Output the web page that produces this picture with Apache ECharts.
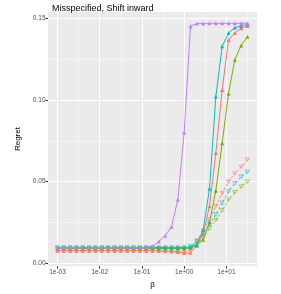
<!DOCTYPE html>
<html>
<head>
<meta charset="utf-8">
<script src="https://cdn.jsdelivr.net/npm/echarts@6/dist/echarts.min.js"></script>
<style>html,body{margin:0;padding:0;background:#fff}#c{width:281px;height:294px}</style>
</head>
<body>
<div id="c"></div>
<script>
// log10(beta) grid
var logBeta = [-3, -2.85, -2.7, -2.55, -2.4, -2.25, -2.1, -1.95, -1.8, -1.65, -1.5, -1.35, -1.2, -1.05, -0.9,
  -0.75, -0.6, -0.45, -0.3, -0.15, 0, 0.15, 0.3, 0.45, 0.6, 0.75, 0.9, 1.05, 1.2, 1.35, 1.5];
var xTicks = [-3, -2, -1, 0, 1];
var xMinor = [-2.5, -1.5, -0.5, 0.5, 1.5];
var yTicks = [0, 0.05, 0.10, 0.15];
var yMinor = [0.025, 0.075, 0.125];

// solid series
var redSolid = [0.0078,0.0078,0.0078,0.0078,0.0078,0.0078,0.0078,0.0078,0.0078,0.0078,0.0078,0.0078,0.0078,0.0078,0.0078,
  0.0078,0.0077,0.0075,0.0073,0.0070,0.0064,0.0066,0.0110,0.0180,0.0350,0.0676,0.1060,0.1366,0.1408,0.1437,0.1451];
var oliveSolid = [0.0093,0.0093,0.0093,0.0093,0.0093,0.0093,0.0093,0.0093,0.0093,0.0093,0.0093,0.0093,0.0093,0.0093,0.0093,
  0.0093,0.0092,0.0092,0.0091,0.0091,0.0090,0.0095,0.0110,0.0145,0.0250,0.0445,0.0735,0.1039,0.1245,0.1333,0.1386];
var tealSolid = [0.0097,0.0097,0.0097,0.0097,0.0097,0.0097,0.0097,0.0097,0.0097,0.0097,0.0097,0.0097,0.0097,0.0097,0.0097,
  0.0097,0.0097,0.0097,0.0097,0.0097,0.0098,0.0100,0.0115,0.0206,0.0456,0.1020,0.1327,0.1408,0.1441,0.1452,0.1462];
var purpleSolid = [0.0097,0.0097,0.0097,0.0097,0.0097,0.0097,0.0097,0.0097,0.0097,0.0097,0.0097,0.0097,0.0097,0.0097,0.0098,
  0.0105,0.0135,0.0170,0.0225,0.0390,0.0800,0.1450,0.1466,0.1467,0.1468,0.1468,0.1468,0.1468,0.1468,0.1468,0.1468];
// dashed series
var redDashed = [0.0078,0.0078,0.0078,0.0078,0.0078,0.0078,0.0078,0.0078,0.0078,0.0078,0.0078,0.0078,0.0078,0.0078,0.0078,
  0.0078,0.0077,0.0075,0.0073,0.0070,0.0065,0.0085,0.0140,0.0200,0.0270,0.0350,0.0430,0.0500,0.0550,0.0590,0.0635];
var oliveDashed = [0.0093,0.0093,0.0093,0.0093,0.0093,0.0093,0.0093,0.0093,0.0093,0.0093,0.0093,0.0093,0.0093,0.0093,0.0093,
  0.0093,0.0092,0.0092,0.0091,0.0091,0.0090,0.0095,0.0120,0.0155,0.0215,0.0265,0.0324,0.0390,0.0435,0.0470,0.0500];
var tealDashed = [0.0097,0.0097,0.0097,0.0097,0.0097,0.0097,0.0097,0.0097,0.0097,0.0097,0.0097,0.0097,0.0097,0.0097,0.0097,
  0.0097,0.0097,0.0097,0.0097,0.0097,0.0098,0.0105,0.0135,0.0185,0.0240,0.0300,0.0370,0.0440,0.0490,0.0530,0.0560];

function pairs(ys){ return logBeta.map(function(x,i){ return [x, ys[i]]; }); }

var RED='#F8766D', OLIVE='#7CAE00', TEAL='#00BFC4', PURPLE='#C77CFF';
var DOWN_TRI = 'path://M0,0 L10,0 L5,9 Z';

function solid(name, ys, col){
  return {name:name, type:'line', xAxisIndex:0, yAxisIndex:0, data:pairs(ys), symbol:'triangle', symbolSize:4,
    showSymbol:true, animation:false, itemStyle:{color:col}, lineStyle:{color:col, width:1}, z:3};
}
function dashed(name, ys, col){
  return {name:name, type:'line', xAxisIndex:0, yAxisIndex:0, data:pairs(ys), symbol:DOWN_TRI, symbolKeepAspect:true,
    symbolSize:[4,4], showSymbol:true, animation:false,
    itemStyle:{color:'rgba(0,0,0,0)', borderColor:col, borderWidth:0.8, opacity:0.7},
    lineStyle:{color:col, width:1, type:[2.5,2], opacity:0.8}, z:3};
}

var X_MIN=-3.225, X_MAX=1.725, Y_MIN=-0.0016, Y_MAX=0.1537;
var FONT='Liberation Sans';

var chart = echarts.init(document.getElementById('c'), null, {renderer:'canvas'});
chart.setOption({
  animation:false,
  backgroundColor:'#ffffff',
  title:{text:'Misspecified, Shift inward', left:47, top:-1, textStyle:{fontFamily:FONT, fontSize:9, fontWeight:'normal', color:'#000'}},
  grid:{left:48, top:12, width:209, height:265, show:true, backgroundColor:'#EBEBEB', borderWidth:0},
  xAxis:[
    {type:'value', min:X_MIN, max:X_MAX, gridIndex:0, position:'bottom',
      name:'β', nameLocation:'middle', nameGap:11,
      nameTextStyle:{fontFamily:FONT, fontSize:8, color:'#000'},
      axisLine:{show:false, onZero:false},
      axisTick:{show:true, length:2.5, customValues:xTicks, lineStyle:{color:'#333', width:1}},
      axisLabel:{show:true, customValues:xTicks, margin:3, fontFamily:FONT, fontSize:6.5, color:'#4D4D4D',
        formatter:function(v){ var a=Math.round(Math.abs(v)); return '1e'+(v<0?'-':'+')+(a<10?'0':'')+a; }},
      splitLine:{show:true, lineStyle:{color:'#ffffff', width:1.1}}},
    {type:'value', min:X_MIN, max:X_MAX, gridIndex:0, position:'bottom',
      axisLine:{show:false, onZero:false}, axisTick:{show:false, customValues:xMinor}, axisLabel:{show:false, customValues:xMinor},
      splitLine:{show:true, lineStyle:{color:'#ffffff', width:0.5}}}
  ],
  yAxis:[
    {type:'value', min:Y_MIN, max:Y_MAX, gridIndex:0, position:'left',
      name:'Regret', nameLocation:'middle', nameGap:21, nameRotate:90,
      nameTextStyle:{fontFamily:FONT, fontSize:8, color:'#000'},
      axisLine:{show:false, onZero:false},
      axisTick:{show:true, length:2.5, customValues:yTicks, lineStyle:{color:'#333', width:1}},
      axisLabel:{show:true, customValues:yTicks, margin:2.5, fontFamily:FONT, fontSize:6.5, color:'#4D4D4D',
        formatter:function(v){ return v.toFixed(2); }},
      splitLine:{show:true, lineStyle:{color:'#ffffff', width:1.1}}},
    {type:'value', min:Y_MIN, max:Y_MAX, gridIndex:0, position:'left',
      axisLine:{show:false, onZero:false}, axisTick:{show:false, customValues:yMinor}, axisLabel:{show:false, customValues:yMinor},
      splitLine:{show:true, lineStyle:{color:'#ffffff', width:0.5}}}
  ],
  series:[
    solid('red solid', redSolid, RED),
    dashed('red dashed', redDashed, RED),
    solid('olive solid', oliveSolid, OLIVE),
    dashed('olive dashed', oliveDashed, OLIVE),
    solid('teal solid', tealSolid, TEAL),
    dashed('teal dashed', tealDashed, TEAL),
    solid('purple solid', purpleSolid, PURPLE)
  ]
});
</script>
</body>
</html>
